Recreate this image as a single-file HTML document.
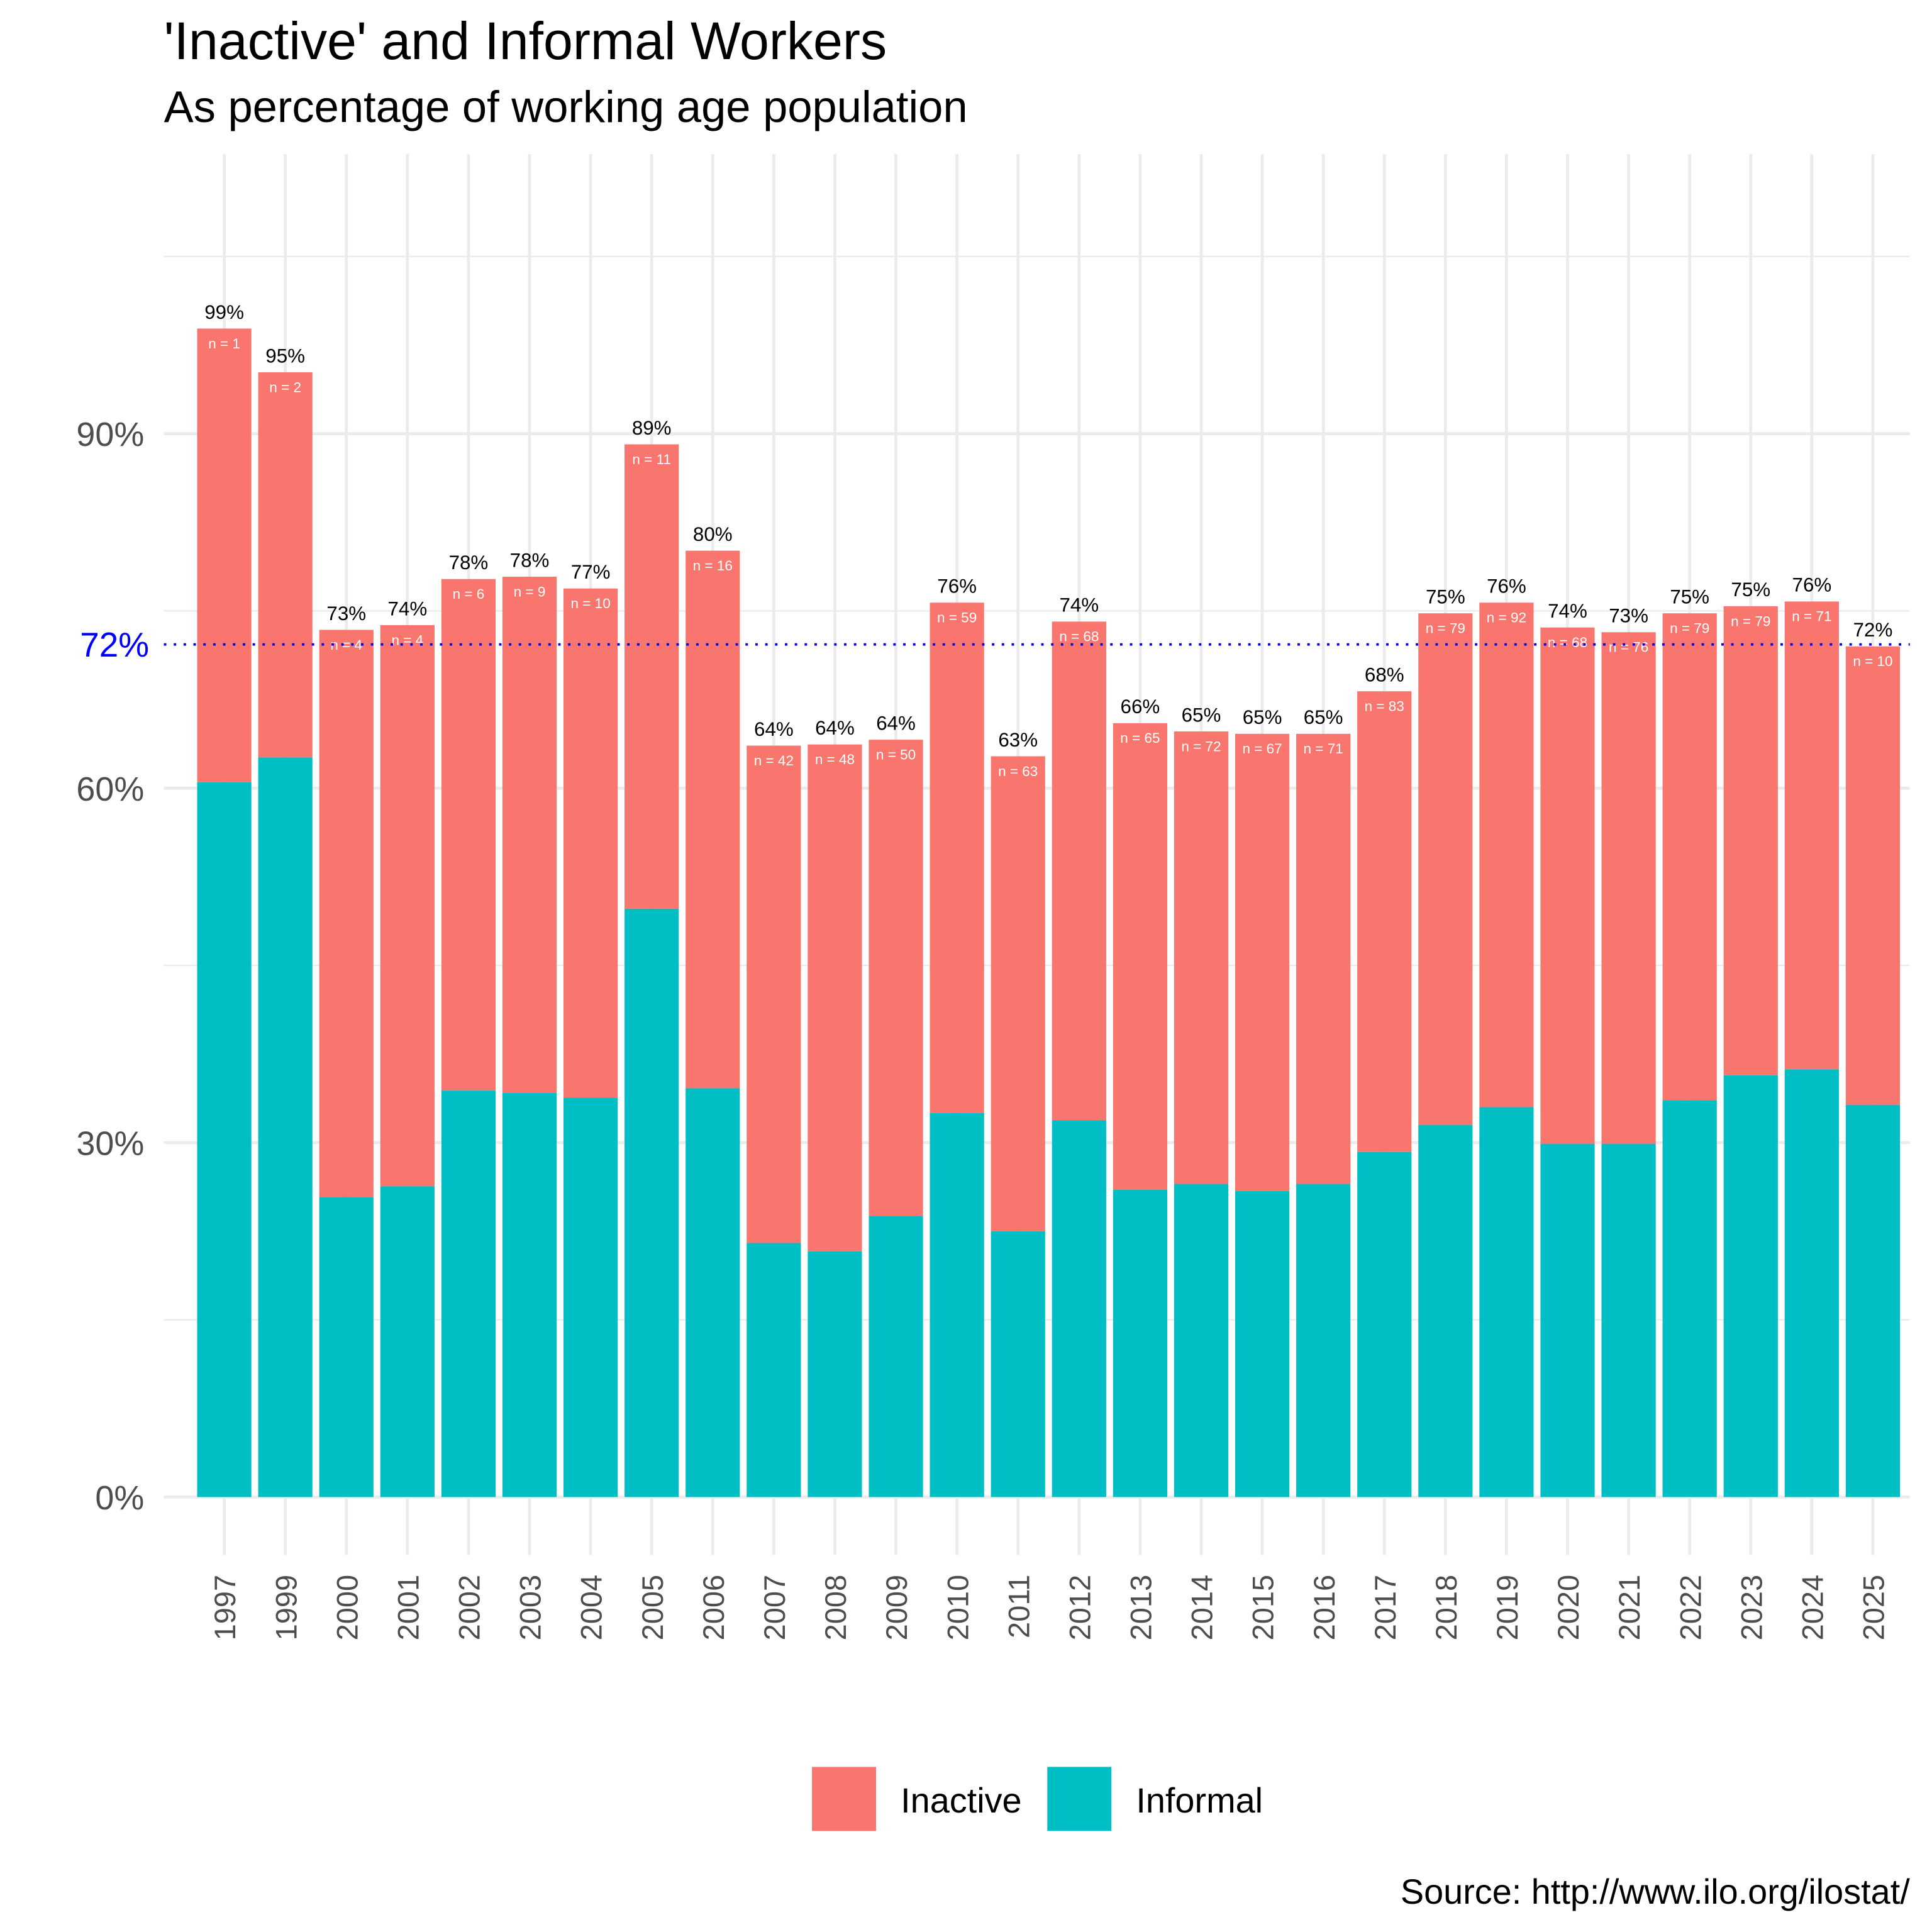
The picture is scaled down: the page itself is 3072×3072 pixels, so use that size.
<!DOCTYPE html>
<html><head><meta charset="utf-8">
<style>
html,body{margin:0;padding:0;background:#fff;}
svg{display:block;font-family:"Liberation Sans",Arial,sans-serif;}
</style></head>
<body>
<svg id="chart" width="3072" height="3072" viewBox="0 0 1568 1568" xmlns="http://www.w3.org/2000/svg">
<rect x="0" y="0" width="1568" height="1568" fill="#fff"/>
<text x="133" y="48" font-size="43" fill="#000">'Inactive' and Informal Workers</text>
<text x="133" y="99" font-size="36" fill="#000">As percentage of working age population</text>
<g id="grid"></g>
<g id="bars"></g>
<g id="labels"></g>
<g id="xticks"></g>
<g id="yticks"></g>
<line x1="133" x2="1550" y1="523" y2="523" stroke="#0000ff" stroke-width="2" stroke-dasharray="2,6"/>
<text x="121" y="533" font-size="28" fill="#0000ff" text-anchor="end">72%</text>
<g>
<rect x="659" y="1434" width="52" height="52" fill="#F8766D"/>
<text x="731" y="1471" font-size="28.5" fill="#000">Inactive</text>
<rect x="850" y="1434" width="52" height="52" fill="#00BFC4"/>
<text x="922" y="1471" font-size="28.5" fill="#000">Informal</text>
</g>
<text x="1550" y="1545" font-size="28.5" fill="#000" text-anchor="end">Source: http://www.ilo.org/ilostat/</text>
</svg>
<script>
const years = ["1997","1999","2000","2001","2002","2003","2004","2005","2006","2007","2008","2009","2010","2011","2012","2013","2014","2015","2016","2017","2018","2019","2020","2021","2022","2023","2024","2025"];
const informal = [60.5,62.6,25.4,26.3,34.4,34.2,33.8,49.8,34.6,21.5,20.8,23.8,32.5,22.5,31.9,26.0,26.5,25.9,26.5,29.2,31.5,33.0,29.9,29.9,33.6,35.7,36.2,33.2];
const total = [98.9,95.2,73.4,73.8,77.7,77.9,76.9,89.1,80.1,63.6,63.7,64.1,75.7,62.7,74.1,65.5,64.8,64.6,64.6,68.2,74.8,75.7,73.6,73.2,74.8,75.4,75.8,72.0];
const nObs = [1,2,4,4,6,9,10,11,16,42,48,50,59,63,68,65,72,67,71,83,79,92,68,76,79,79,71,10];
const yTicks = [0,30,60,90];
const yMinor = [15,45,75,105];

const NS="http://www.w3.org/2000/svg";
const y = v => 1215 - v*(1215-352)/90;
const x = i => 182 + i*(1520-182)/(years.length-1);
const bw = 44;
function mk(tag, attrs, parent, txt){
  const e=document.createElementNS(NS,tag);
  for(const k in attrs) e.setAttribute(k,attrs[k]);
  if(txt!==undefined) e.textContent=txt;
  parent.appendChild(e); return e;
}
const grid=document.getElementById('grid'), bars=document.getElementById('bars'),
      labels=document.getElementById('labels'), xt=document.getElementById('xticks'), yt=document.getElementById('yticks');
yMinor.forEach(v=>{
  const l=mk('line',{x1:133,x2:1550,y1:y(v),y2:y(v),stroke:'#ebebeb','stroke-width':1.2},grid);
  
  
});
yTicks.forEach(v=>{
  const l=mk('line',{x1:133,x2:1550,y1:y(v),y2:y(v),stroke:'#ebebeb','stroke-width':2.4},grid);
  
  
  const t=mk('text',{x:117,y:y(v)+10,'font-size':27.5,fill:'#4d4d4d','text-anchor':'end'},yt,v+'%');
  
  
});
years.forEach((yr,i)=>{
  const cx=x(i);
  const g=mk('line',{x1:cx,x2:cx,y1:125,y2:1262,stroke:'#ebebeb','stroke-width':2.4},grid);
  
  
  const r1=mk('rect',{x:cx-bw/2,y:y(total[i]),width:bw,height:y(informal[i])-y(total[i]),fill:'#F8766D'},bars);
  
  
  const r2=mk('rect',{x:cx-bw/2,y:y(informal[i]),width:bw,height:y(0)-y(informal[i]),fill:'#00BFC4'},bars);
  
  
  const p=mk('text',{x:cx,y:y(total[i])-8,'font-size':16,fill:'#000','text-anchor':'middle'},labels,Math.round(total[i])+'%');
  
  
  const n=mk('text',{x:cx,y:y(total[i])+16,'font-size':11.5,fill:'#fff','text-anchor':'middle'},labels,'n = '+nObs[i]);
  
  
  const t=mk('text',{x:0,y:0,'font-size':24,fill:'#4d4d4d','text-anchor':'end',transform:'translate('+(cx+9)+',1278) rotate(-90)'},xt,yr);
  
  
});
</script>
</body></html>
